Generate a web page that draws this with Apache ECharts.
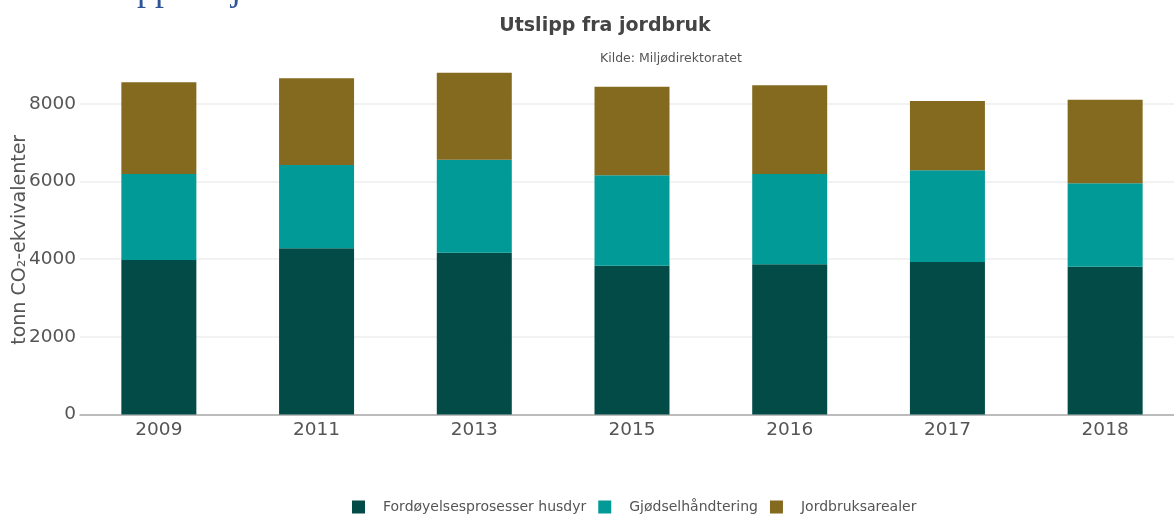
<!DOCTYPE html>
<html>
<head>
<meta charset="utf-8">
<script src="https://cdn.jsdelivr.net/npm/echarts@6/dist/echarts.min.js"></script>
<style>
    html, body { margin: 0; padding: 0; background: #fff; }
    #chart { width: 1174px; height: 514px; }
</style>
</head>
<body>
<div id="chart"></div>
<script>
// data
let years = ['2009', '2011', '2013', '2015', '2016', '2017', '2018'];
let fordoyelse = [3980, 4281, 4167, 3833, 3869, 3928, 3807];
let gjodsel = [2213, 2144, 2394, 2327, 2324, 2360, 2147];
let jordbruksarealer = [2360, 2231, 2239, 2280, 2283, 1784, 2152];

let seriesNames = ['Fordøyelsesprosesser husdyr', 'Gjødselhåndtering', 'Jordbruksarealer'];
let colors = ['#024b46', '#029a96', '#836a1e'];
let fontFamily = '"DejaVu Sans", Verdana, sans-serif';

let series = [fordoyelse, gjodsel, jordbruksarealer].map((data, i) => {
    return {
        type: 'bar',
        name: seriesNames[i],
        stack: 'total',
        barWidth: 75,
        data: data,
        itemStyle: {
            color: colors[i]
        }
    }
});

let option = {
    color: colors,
    animation: false,
    textStyle: {
        fontFamily: fontFamily
    },
    title: {
        text: 'Utslipp fra jordbruk',
        left: 600,
        textAlign: 'center',
        top: 12,
        textStyle: {
            color: '#444',
            fontSize: 19,
            fontWeight: 'bold',
            fontFamily: fontFamily
        }
    },
    graphic: [
        {
            // heading of the page above, cut off by the picture
            type: 'text',
            left: 67,
            top: -27,
            style: {
                text: 'Utslipp fra jordbruk',
                fill: '#2f5597',
                font: '36px "Liberation Serif", serif'
            }
        },
        {
            type: 'text',
            left: 600,
            top: 52,
            style: {
                text: 'Kilde: Miljødirektoratet',
                fill: '#555',
                font: '12.5px "DejaVu Sans", Verdana, sans-serif'
            }
        }
    ],
    legend: {
        left: 347,
        top: 495,
        icon: 'rect',
        itemWidth: 13,
        itemHeight: 13,
        itemGap: 12,
        textStyle: {
            color: '#555',
            fontSize: 14,
            padding: [0, 0, 0, 13]
        }
    },
    grid: {
        left: 80,
        right: -10,
        top: 65,
        bottom: 99.4,
        outerBoundsMode: 'none',
        containLabel: false
    },
    xAxis: {
        type: 'category',
        data: years,
        axisTick: { show: false },
        axisLine: {
            lineStyle: { color: '#aaa', width: 1.5 }
        },
        axisLabel: {
            color: '#555',
            fontSize: 18.5,
            margin: 6
        }
    },
    yAxis: {
        type: 'value',
        min: 0,
        max: 9000,
        interval: 2000,
        name: 'tonn CO₂-ekvivalenter',
        nameLocation: 'middle',
        nameGap: 50,
        nameMoveOverlap: false,
        nameTextStyle: {
            color: '#555',
            fontSize: 19
        },
        axisLine: { show: false },
        axisTick: { show: false },
        axisLabel: {
            color: '#555',
            fontSize: 18.5,
            margin: 4,
            showMaxLabel: false,
            formatter: function (value) {
                return String(value);
            }
        },
        splitLine: {
            showMaxLine: false,
            lineStyle: { color: '#eee', width: 1.5 }
        }
    },
    series: series
};

let chart = echarts.init(document.getElementById('chart'));
chart.setOption(option);
window.addEventListener('resize', function () {
    chart.resize();
});
</script>
</body>
</html>
